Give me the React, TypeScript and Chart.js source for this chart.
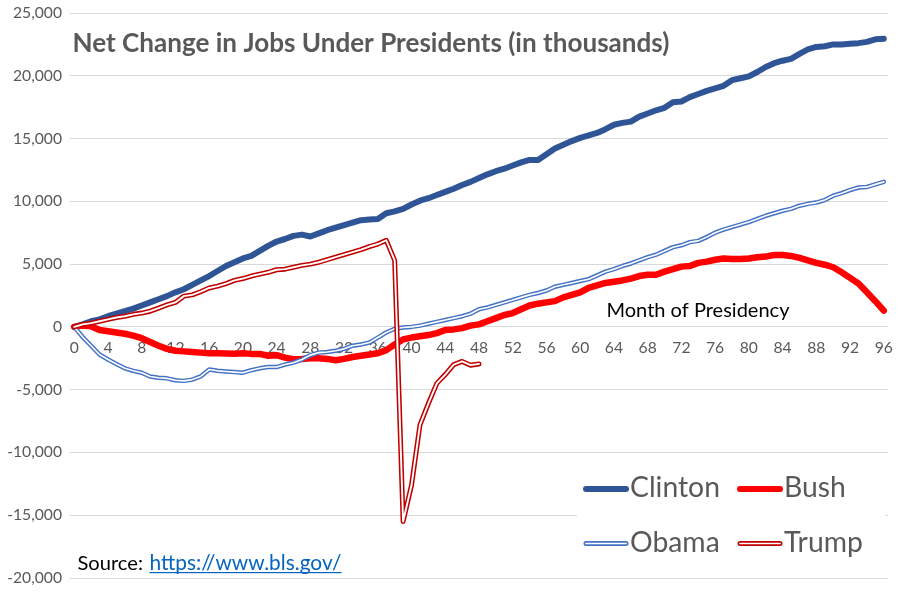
import React, { useEffect, useRef } from 'react';
import { Chart, registerables } from 'chart.js';

Chart.register(...registerables);

const FONT = 'Lato';

// Category axis: month of presidency 0..96
const months: string[] = Array.from({ length: 97 }, (_, i) => String(i));
const xLabelEvery = 4;

const yMin = -20000;
const yMax = 25000;
const yStep = 5000;

// Net change in jobs (thousands) since start of presidency
const clinton = [
  0, 200, 450, 600, 850, 1050, 1250, 1450, 1700, 1950,
  2200, 2450, 2750, 3000, 3350, 3700, 4050, 4450, 4850, 5150,
  5450, 5650, 6050, 6450, 6800, 7000, 7250, 7350, 7200, 7450,
  7700, 7900, 8100, 8300, 8500, 8550, 8600, 9050, 9200, 9400,
  9750, 10050, 10250, 10500, 10750, 11000, 11300, 11550, 11850, 12150,
  12400, 12600, 12850, 13100, 13300, 13300, 13750, 14200, 14500, 14800,
  15050, 15250, 15450, 15750, 16100, 16250, 16350, 16750, 17000, 17250,
  17450, 17900, 17950, 18300, 18550, 18800, 19000, 19200, 19650, 19800,
  19950, 20300, 20700, 21000, 21200, 21350, 21750, 22100, 22300, 22350,
  22500, 22500, 22550, 22600, 22700, 22900, 22950,
];

const bush = [
  0, 100, 50, -250, -350, -450, -550, -700, -900, -1200,
  -1500, -1750, -1900, -1950, -2000, -2050, -2100, -2100, -2120, -2130,
  -2100, -2150, -2150, -2300, -2250, -2450, -2580, -2550, -2500, -2500,
  -2550, -2650, -2550, -2400, -2300, -2200, -2100, -1850, -1400, -1000,
  -850, -750, -650, -500, -250, -200, -100, 100, 200, 450,
  700, 950, 1100, 1400, 1700, 1850, 1950, 2050, 2350, 2550,
  2750, 3100, 3300, 3500, 3600, 3700, 3850, 4050, 4150, 4150,
  4400, 4600, 4800, 4850, 5100, 5200, 5350, 5450, 5400, 5400,
  5450, 5550, 5600, 5720, 5720, 5650, 5500, 5300, 5100, 4950,
  4750, 4350, 3900, 3450, 2750, 2050, 1300,
];

const obama = [
  0, -800, -1500, -2200, -2600, -2950, -3300, -3500, -3650, -3950,
  -4050, -4100, -4250, -4300, -4200, -3950, -3400, -3500, -3550, -3600,
  -3650, -3450, -3300, -3200, -3200, -3000, -2850, -2600, -2250, -2050,
  -2000, -1900, -1750, -1500, -1400, -1250, -850, -450, -150, -50,
  0, 100, 250, 400, 550, 700, 850, 1050, 1400, 1550,
  1750, 1950, 2150, 2350, 2550, 2700, 2900, 3200, 3350, 3500,
  3650, 3800, 4100, 4400, 4600, 4850, 5050, 5300, 5550, 5750,
  6050, 6350, 6500, 6750, 6850, 7150, 7500, 7750, 7950, 8150,
  8350, 8600, 8850, 9050, 9250, 9400, 9650, 9800, 9900, 10100,
  10450, 10650, 10900, 11100, 11150, 11350, 11550,
];

const trump = [
  0, 200, 300, 450, 600, 750, 850, 1000, 1100, 1250,
  1500, 1750, 1950, 2450, 2550, 2800, 3100, 3250, 3450, 3700,
  3850, 4050, 4200, 4350, 4550, 4600, 4750, 4900, 5000, 5150,
  5350, 5550, 5750, 5950, 6150, 6400, 6600, 6900, 5300, -15500,
  -12600, -7800, -6100, -4500, -3800, -3000, -2750, -3050, -2950,
];

const TITLE = 'Net Change in Jobs Under Presidents (in thousands)';
const AXIS_NOTE = 'Month of Presidency';
const SOURCE_LABEL = 'Source:';
const SOURCE_URL = 'https://www.bls.gov/';

const legendNames = ['Clinton', 'Bush', 'Obama', 'Trump'];
const seriesColors = ['#2F5597', '#FF0000', '#4472C4', '#C00000'];

function fitSize(ctx: CanvasRenderingContext2D, text: string, weight: string, target: number) {
  ctx.font = `${weight} 100px ${FONT}`;
  return (100 * target) / ctx.measureText(text).width;
}

function drawFit(
  ctx: CanvasRenderingContext2D, text: string, weight: string, x: number, y: number,
  target: number, color: string,
) {
  const size = fitSize(ctx, text, weight, target);
  ctx.font = `${weight} ${size}px ${FONT}`;
  ctx.fillStyle = color;
  ctx.textAlign = 'left';
  ctx.textBaseline = 'alphabetic';
  ctx.fillText(text, x, y);
}

function drawSample(ctx: CanvasRenderingContext2D, x1: number, x2: number, y: number, color: string, dbl: boolean) {
  ctx.lineCap = 'round';
  ctx.beginPath();
  ctx.moveTo(x1, y);
  ctx.lineTo(x2, y);
  ctx.strokeStyle = color;
  ctx.lineWidth = dbl ? 5 : 6;
  ctx.stroke();
  if (dbl) {
    ctx.beginPath();
    ctx.moveTo(x1, y);
    ctx.lineTo(x2, y);
    ctx.strokeStyle = '#FFFFFF';
    ctx.lineWidth = 1.7;
    ctx.stroke();
  }
}

const overlayPlugin = {
  id: 'overlayTexts',
  afterDraw(chart: any) {
    const ctx: CanvasRenderingContext2D = chart.ctx;
    ctx.save();
    // title
    drawFit(ctx, TITLE, 'bold', 72.5, 52, 597, '#595959');
    // axis note
    drawFit(ctx, AXIS_NOTE, 'normal', 606.5, 316.5, 183, '#000000');
    // source
    drawFit(ctx, SOURCE_LABEL, 'normal', 77.5, 570, 65.5, '#000000');
    drawFit(ctx, SOURCE_URL, 'normal', 149.5, 570, 192, '#0563C1');
    ctx.fillStyle = '#0563C1';
    ctx.fillRect(149.5, 572, 192, 1.2);

    // legend box
    ctx.fillStyle = '#FFFFFF';
    ctx.fillRect(577, 462, 308, 110);
    const cols = [584, 738];
    const rows = [489, 543.5];
    const baselines = [497.3, 551.7];
    ctx.font = `normal 100px ${FONT}`;
    const lsize = (100 * 90) / ctx.measureText('Clinton').width;
    legendNames.forEach((name, i) => {
      const c = i % 2;
      const r = Math.floor(i / 2);
      const x = cols[c];
      drawSample(ctx, x + 2, x + 42, rows[r], seriesColors[i], i >= 2);
      ctx.font = `normal ${lsize}px ${FONT}`;
      ctx.fillStyle = '#595959';
      ctx.textAlign = 'left';
      ctx.textBaseline = 'alphabetic';
      ctx.fillText(name, x + 46, baselines[r]);
    });
    ctx.restore();
  },
};

export default function App() {
  const ref = useRef<HTMLCanvasElement | null>(null);

  useEffect(() => {
    const canvas = ref.current;
    if (!canvas) return;
    const mctx = document.createElement('canvas').getContext('2d') as CanvasRenderingContext2D;
    mctx.font = `normal 100px ${FONT}`;
    const tickSize = (100 * 49) / mctx.measureText('25,000').width;

    const common = {
      pointRadius: 0,
      pointHoverRadius: 0,
      tension: 0,
      fill: false,
      borderJoinStyle: 'round' as const,
      borderCapStyle: 'round' as const,
    };

    const chart = new Chart(canvas, {
      type: 'line',
      data: {
        labels: months,
        datasets: [
          { ...common, label: 'Clinton', data: clinton, borderColor: seriesColors[0], borderWidth: 6, order: 6 },
          { ...common, label: 'Bush', data: bush, borderColor: seriesColors[1], borderWidth: 6.5, order: 5 },
          { ...common, label: 'Obama', data: obama, borderColor: seriesColors[2], borderWidth: 4.5, order: 4 },
          { ...common, label: 'Obama inner', data: obama, borderColor: '#FFFFFF', borderWidth: 1.6, order: 3 },
          { ...common, label: 'Trump', data: trump, borderColor: seriesColors[3], borderWidth: 5, order: 2 },
          { ...common, label: 'Trump inner', data: trump, borderColor: '#FFFFFF', borderWidth: 1.9, order: 1 },
        ],
      },
      options: {
        responsive: false,
        animation: false,
        layout: { padding: { top: 13, bottom: 23, right: 18, left: 0 } },
        plugins: {
          legend: { display: false },
          title: { display: false },
          tooltip: { enabled: false },
        },
        scales: {
          x: {
            type: 'category',
            offset: true,
            position: { y: 0 } as any,
            grid: { display: false, drawTicks: false },
            border: { display: false },
            ticks: {
              autoSkip: false,
              maxRotation: 0,
              minRotation: 0,
              padding: 12,
              color: '#595959',
              font: { family: FONT, size: tickSize },
              callback: (_v: any, i: number) => (i % xLabelEvery === 0 ? months[i] : ''),
            },
            afterFit: (s: any) => {
              s.paddingLeft = 0;
              s.paddingRight = 0;
            },
          },
          y: {
            min: yMin,
            max: yMax,
            grid: { color: '#D9D9D9', lineWidth: 1, drawTicks: false },
            border: { display: false },
            ticks: {
              stepSize: yStep,
              padding: 8,
              color: '#595959',
              font: { family: FONT, size: tickSize },
              callback: (v: any) => Number(v).toLocaleString('en-US'),
            },
            afterFit: (s: any) => {
              s.width = 70;
              s.paddingTop = 0;
              s.paddingBottom = 0;
            },
          },
        },
      },
      plugins: [overlayPlugin],
    });

    return () => chart.destroy();
  }, []);

  return (
    <div style={{ position: 'fixed', left: 0, top: 0, width: 906, height: 601, background: '#FFFFFF' }}>
      <canvas ref={ref} width={906} height={601} style={{ display: 'block' }} />
    </div>
  );
}
